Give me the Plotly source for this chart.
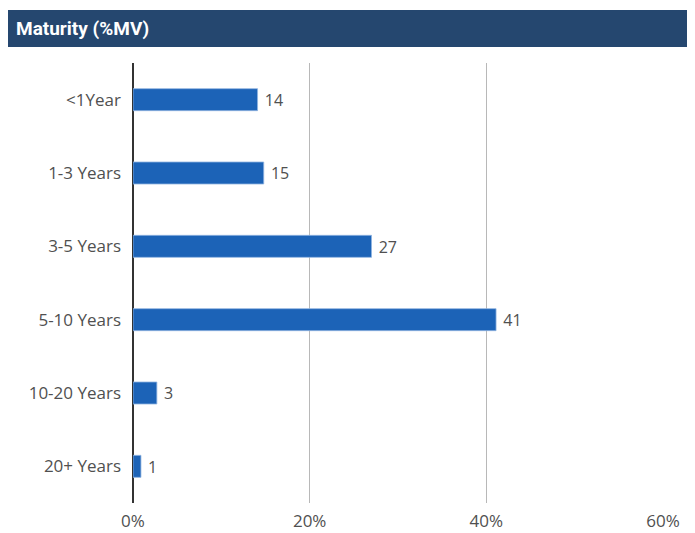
import plotly.graph_objects as go

categories = ["<1Year", "1-3 Years", "3-5 Years", "5-10 Years", "10-20 Years", "20+ Years"]
values = [14.1, 14.8, 27.0, 41.1, 2.7, 0.9]
labels = ["14", "15", "27", "41", "3", "1"]
x_ticks = [0, 20, 40, 60]
x_tick_labels = ["0%", "20%", "40%", "60%"]
title = "Maturity (%MV)"

FONT = "Open Sans"
TITLE_FONT = "Roboto, Open Sans, sans-serif"

fig = go.Figure(go.Bar(
    y=categories, x=values, orientation="h",
    text=labels, texttemplate=" %{text}", textposition="outside", cliponaxis=False,
    textfont=dict(family=FONT, size=17.5, color="#505050"),
    marker=dict(color="#1c63b7", line=dict(color="#8fb4e0", width=0.8)),
    width=0.3,
))

# page body has an 8px margin; figure is sized/offset to compensate
fig.update_layout(
    width=687, height=525,
    margin=dict(l=124.5, r=32, t=55, b=30, autoexpand=False),
    paper_bgcolor="white", plot_bgcolor="white",
    showlegend=False,
    font=dict(family=FONT, size=17, color="#505050"),
    xaxis=dict(range=[0, 60], tickvals=x_ticks, ticktext=x_tick_labels,
               showgrid=True, gridcolor="#b8b8b8", gridwidth=1,
               zeroline=True, zerolinecolor="#333333", zerolinewidth=1.5,
               showline=False, ticks="", fixedrange=True, ticklabelstandoff=6,
               tickfont=dict(family=FONT, size=17, color="#505050")),
    yaxis=dict(autorange="reversed", showgrid=False, zeroline=False, showline=False,
               ticks="", ticklabelstandoff=11,
               tickfont=dict(family=FONT, size=17, color="#505050")),
    shapes=[dict(type="rect", xref="paper", yref="paper",
                 x0=-0.2403, x1=1.0547, y0=1.0364, y1=1.1205,
                 fillcolor="#25476f", line=dict(width=0), layer="above")],
    annotations=[dict(text="<b>" + title + "</b>", xref="paper", yref="paper",
                      x=-0.2253, y=1.0785, xanchor="left", yanchor="middle",
                      showarrow=False,
                      font=dict(family=TITLE_FONT, size=19, color="white"))],
)

fig.write_html("out.html")
